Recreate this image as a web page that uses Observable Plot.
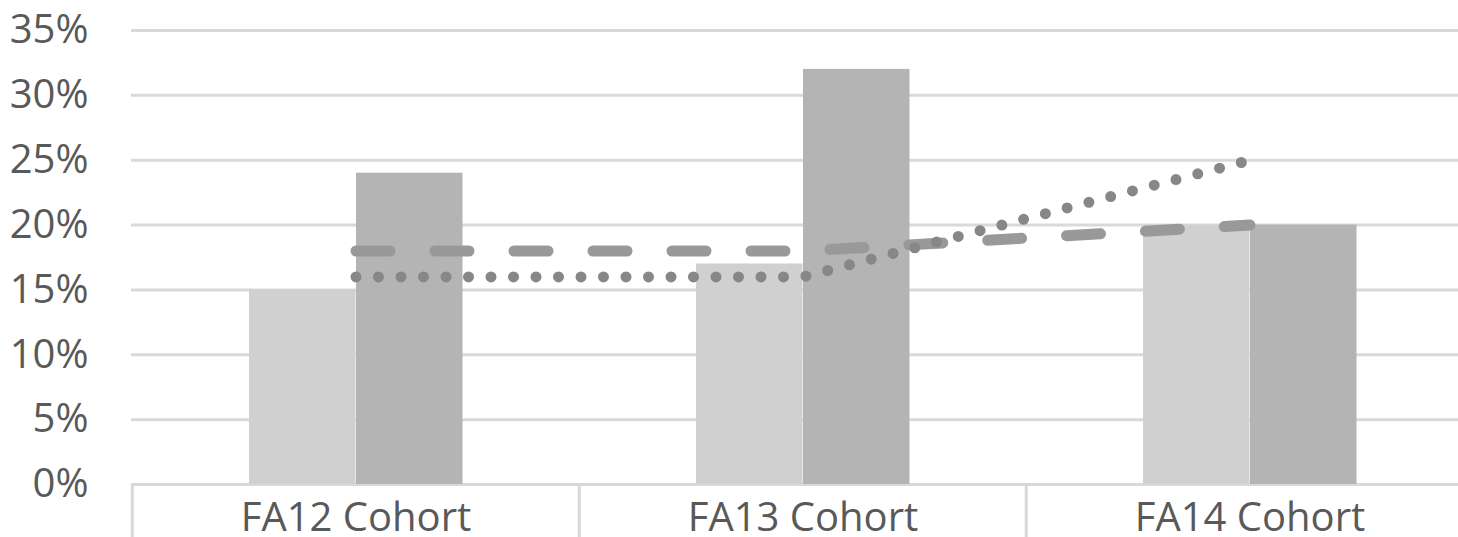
<!DOCTYPE html>
<html>
<head>
<meta charset="utf-8">
<script src="https://cdn.jsdelivr.net/npm/d3@7"></script>
<script src="https://cdn.jsdelivr.net/npm/@observablehq/plot@0.6"></script>
<style>
  html, body { margin: 0; padding: 0; background: #ffffff; overflow: hidden; }
</style>
</head>
<body>
<div id="chart"></div>
<script>
const categories = ["FA12 Cohort", "FA13 Cohort", "FA14 Cohort"];
const lightBars = [0.15, 0.17, 0.20];
const darkBars = [0.24, 0.32, 0.20];
const dashedLine = [0.18, 0.18, 0.20];
const dottedLine = [0.16, 0.16, 0.25];
const yTicks = [0, 0.05, 0.10, 0.15, 0.20, 0.25, 0.30, 0.35];

const rows = categories.map((c, i) => ({
  category: c,
  light: lightBars[i],
  dark: darkBars[i],
  dashed: dashedLine[i],
  dotted: dottedLine[i]
}));

const W = 1458, H = 537;
const mLeft = 131, mRight = -15.5;
const band = (W - mLeft - mRight) / categories.length;

const chart = Plot.plot({
  width: W,
  height: H,
  marginLeft: mLeft,
  marginRight: mRight,
  marginTop: 30,
  marginBottom: 53,
  style: {
    fontFamily: "'Open Sans', sans-serif",
    fontSize: "40px",
    color: "#595959",
    background: "#ffffff"
  },
  x: {
    type: "band",
    domain: categories,
    padding: 0,
    tickSize: 0,
    tickPadding: 18,
    label: null
  },
  y: {
    domain: [0, 0.35],
    ticks: yTicks,
    tickFormat: d3.format(".0%"),
    tickSize: 0,
    tickPadding: 43,
    label: null
  },
  marks: [
    Plot.ruleY(yTicks, {stroke: "#d9d9d9", strokeWidth: 3}),
    Plot.ruleX(rows, {x: "category", y1: 0, y2: -0.041, dx: -band / 2, stroke: "#d9d9d9", strokeWidth: 3}),
    Plot.barY(rows, {x: "category", y: "light", fill: "#d0d0d0", insetLeft: 117, insetRight: band - 224}),
    Plot.barY(rows, {x: "category", y: "dark", fill: "#b4b4b4", insetLeft: 224, insetRight: band - 331}),
    Plot.lineY(rows, {x: "category", y: "dashed", stroke: "#999999", strokeWidth: 11, strokeLinecap: "round", strokeDasharray: "34 45"}),
    Plot.lineY(rows, {x: "category", y: "dotted", stroke: "#878787", strokeWidth: 11, strokeLinecap: "round", strokeDasharray: "0 22.5"})
  ]
});

document.getElementById("chart").appendChild(chart);
</script>
</body>
</html>
